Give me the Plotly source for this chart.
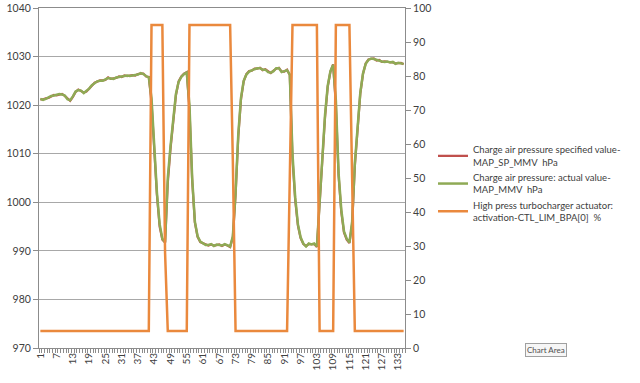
import plotly.graph_objects as go

# Category index (x axis categories 1..135)
categories = list(range(1, 136))
tick_positions = [1, 7, 13, 19, 25, 31, 37, 43, 49, 55, 61, 67, 73, 79, 85, 91, 97, 103, 109, 115, 121, 127, 133]
tick_labels = [str(v) for v in tick_positions]

# Charge air pressure: actual value (hPa, left axis)
actual = [
    1021.3, 1021.1, 1021.3, 1021.6, 1021.9, 1022.0, 1022.1, 1022.3, 1022.2, 1022.0,
    1021.2, 1021.0, 1021.8, 1022.8, 1023.1, 1023.0, 1022.5, 1022.9, 1023.4, 1024.1,
    1024.5, 1024.9, 1025.0, 1025.0, 1025.3, 1025.6, 1025.5, 1025.4, 1025.7, 1025.8,
    1025.9, 1026.0, 1026.1, 1026.0, 1026.1, 1026.2, 1026.3, 1026.6, 1026.4, 1026.0,
    1025.7, 1021.5, 1010.5, 1002.0, 995.5, 992.5, 991.8, 1005.0, 1011.5, 1017.0,
    1022.3, 1024.8, 1025.8, 1026.4, 1026.7, 1020.0, 1005.0, 996.0, 993.0, 991.9,
    991.5, 991.2, 991.2, 991.4, 991.0, 991.3, 991.2, 991.1, 991.4, 991.2,
    990.9, 993.0, 1002.0, 1014.0, 1021.5, 1025.0, 1026.3, 1026.9, 1027.2, 1027.4,
    1027.6, 1027.6, 1027.3, 1027.3, 1026.8, 1026.7, 1027.0, 1027.6, 1027.6, 1026.8,
    1027.0, 1027.2, 1026.3, 1010.0, 1001.0, 995.5, 992.8, 991.5, 990.9, 991.5,
    991.3, 991.5, 990.9, 1000.5, 1011.0, 1018.0, 1024.0, 1027.0, 1028.3, 1021.0,
    1006.0, 998.5, 994.0, 992.5, 991.7, 996.0, 1008.0, 1016.0, 1022.5, 1026.5,
    1028.5, 1029.3, 1029.6, 1029.5, 1029.3, 1029.2, 1029.0, 1028.9, 1029.0, 1028.8,
    1028.9, 1028.5, 1028.7, 1028.6, 1028.5,
]

# Charge air pressure: specified value (hPa, left axis)
specified = [
    1021.2, 1021.2, 1021.4, 1021.5, 1021.8, 1022.1, 1022.0, 1022.2, 1022.3, 1021.9,
    1021.3, 1020.9, 1021.7, 1022.7, 1023.2, 1022.9, 1022.6, 1022.8, 1023.5, 1024.0,
    1024.6, 1024.8, 1025.1, 1025.1, 1025.2, 1025.7, 1025.4, 1025.5, 1025.6, 1025.9,
    1025.8, 1026.1, 1026.0, 1026.1, 1026.2, 1026.1, 1026.4, 1026.5, 1026.5, 1025.9,
    1025.8, 1020.5, 1009.5, 1001.5, 995.0, 992.3, 991.7, 1004.0, 1011.0, 1016.5,
    1022.0, 1024.9, 1025.9, 1026.5, 1026.8, 1019.0, 1004.5, 995.8, 992.9, 991.8,
    991.6, 991.3, 991.1, 991.3, 991.1, 991.2, 991.3, 991.0, 991.3, 991.1,
    990.8, 992.8, 1001.5, 1013.5, 1021.2, 1024.9, 1026.4, 1027.0, 1027.1, 1027.5,
    1027.5, 1027.7, 1027.2, 1027.4, 1026.9, 1026.6, 1027.1, 1027.5, 1027.7, 1026.9,
    1026.9, 1027.3, 1026.2, 1009.0, 1000.5, 995.2, 992.6, 991.4, 991.0, 991.4,
    991.4, 991.4, 990.8, 1000.0, 1010.5, 1017.5, 1023.8, 1026.9, 1028.4, 1020.0,
    1005.5, 998.0, 993.8, 992.3, 991.6, 995.5, 1007.5, 1015.5, 1022.3, 1026.4,
    1028.6, 1029.4, 1029.5, 1029.6, 1029.2, 1029.3, 1028.9, 1029.0, 1028.9, 1028.9,
    1028.8, 1028.6, 1028.6, 1028.7, 1028.4,
]

# High press turbocharger actuator activation (%, right axis)
actuator = [
    5, 5, 5, 5, 5, 5, 5, 5, 5, 5,
    5, 5, 5, 5, 5, 5, 5, 5, 5, 5,
    5, 5, 5, 5, 5, 5, 5, 5, 5, 5,
    5, 5, 5, 5, 5, 5, 5, 5, 5, 5,
    5, 95, 95, 95, 95, 95, 28, 5, 5, 5,
    5, 5, 5, 5, 5, 95, 95, 95, 95, 95,
    95, 95, 95, 95, 95, 95, 95, 95, 95, 95,
    95, 55, 5, 5, 5, 5, 5, 5, 5, 5,
    5, 5, 5, 5, 5, 5, 5, 5, 5, 5,
    5, 5, 50, 95, 95, 95, 95, 95, 95, 95,
    95, 95, 95, 5, 5, 5, 5, 5, 5, 95,
    95, 95, 95, 95, 95, 50, 5, 5, 5, 5,
    5, 5, 5, 5, 5, 5, 5, 5, 5, 5,
    5, 5, 5, 5, 5,
]

series_names = [
    "Charge air pressure specified value-<br>MAP_SP_MMV  hPa",
    "Charge air pressure: actual value-<br>MAP_MMV  hPa",
    "High press turbocharger actuator:<br>activation-CTL_LIM_BPA[0]  %",
]

FONT = "Lato"
TXT = "#404040"
AX = "#8c8c8c"

W, H = 640, 383

fig = go.Figure()
fig.add_trace(go.Scatter(x=categories, y=specified, name=series_names[0], mode="lines",
                         line=dict(color="#C0504D", width=2.25)))
fig.add_trace(go.Scatter(x=categories, y=actual, name=series_names[1], mode="lines",
                         line=dict(color="#8FAA55", width=2.5)))
fig.add_trace(go.Scatter(x=categories, y=actuator, name=series_names[2], mode="lines",
                         yaxis="y2", line=dict(color="#EA893D", width=2.5)))

fig.update_layout(
    width=W, height=H,
    margin=dict(l=39, r=235, t=7.5, b=35, autoexpand=False),
    paper_bgcolor="white", plot_bgcolor="white",
    font=dict(family=FONT, size=10, color=TXT),
    showlegend=True,
    legend=dict(xref="container", yref="container", x=433 / W, y=1 - 137 / H,
                xanchor="left", yanchor="top", itemwidth=30,
                font=dict(family=FONT, size=9.5, color=TXT),
                bgcolor="rgba(0,0,0,0)"),
    xaxis=dict(range=[0.5, 135.5], tickmode="array", tickvals=tick_positions,
               ticktext=tick_labels, tickangle=-90, showgrid=False, zeroline=False,
               showline=True, mirror=True, linecolor=AX, linewidth=1, ticks="",
               tickfont=dict(family=FONT, size=10, color=TXT),
               minor=dict(ticks="outside", ticklen=4, tickcolor=AX, tickmode="linear",
                          tick0=0.5, dtick=1, showgrid=False)),
    yaxis=dict(range=[970, 1040], dtick=10, tick0=970, showgrid=True, gridcolor="#a8a8a8",
               gridwidth=1, zeroline=False, showline=True, linecolor=AX, ticks="outside",
               ticklen=5, tickcolor=AX, tickfont=dict(family=FONT, size=10.5, color=TXT)),
    yaxis2=dict(range=[0, 100], dtick=10, tick0=0, overlaying="y", side="right",
                showgrid=False, zeroline=False, showline=True, linecolor=AX,
                ticks="outside", ticklen=5, tickcolor=AX,
                tickfont=dict(family=FONT, size=10.5, color=TXT)),
    annotations=[dict(text="Chart Area", xref="paper", yref="paper", x=(546 - 39) / 366,
                      y=-0.006, xanchor="center", yanchor="middle",
                      showarrow=False, font=dict(family=FONT, size=8, color="#505050"),
                      bordercolor="#a0a0a0", borderwidth=1, borderpad=1, bgcolor="#f6f6f6")],
)

# remove the default 8px page margin so the figure fills the 640x383 window
fig.write_html("out.html", config={"displayModeBar": False},
               post_script="document.body.style.margin='0';")
